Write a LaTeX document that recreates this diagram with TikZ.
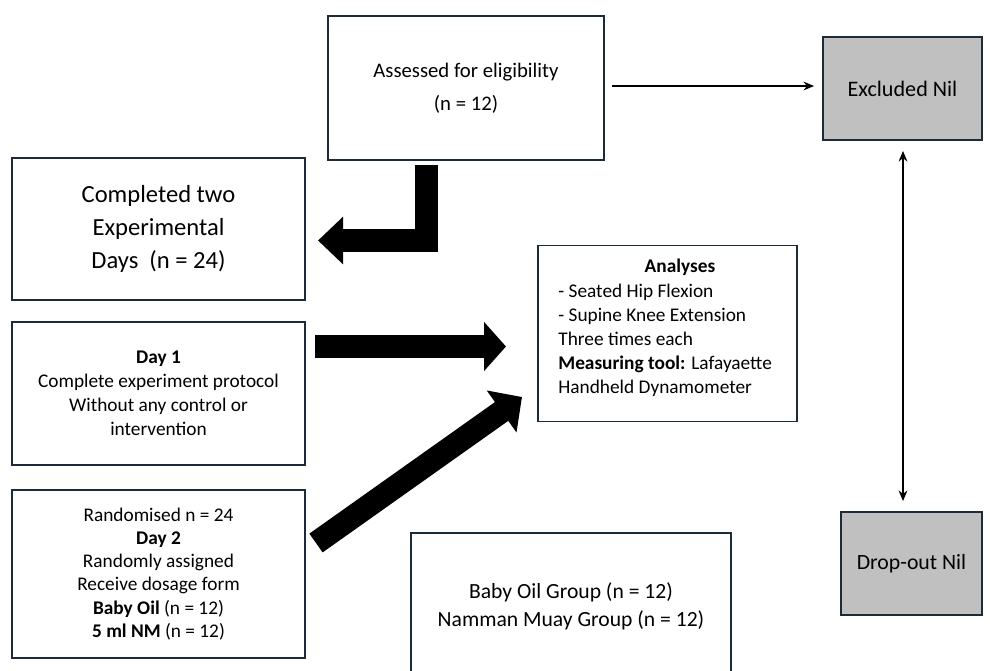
\documentclass[tikz,border=0pt]{standalone}
\usepackage{fontspec}
\setmainfont{Carlito}
\usetikzlibrary{arrows.meta}
\definecolor{boxline}{HTML}{1C2B3A}
\definecolor{boxgray}{HTML}{C0C0C0}
\tikzset{
  box/.style={draw=boxline, line width=1.1pt, fill=white, align=center, inner sep=0pt},
  graybox/.style={box, fill=boxgray},
  bigarrow/.style={line width=0.46cm, -{Triangle[length=0.44cm, width=0.96cm]}},
  thinarrow/.style={line width=0.8pt, -{Stealth[length=6pt, width=5pt]}}
}
\begin{document}
\begin{tikzpicture}[x=0.02cm, y=-0.02cm]
    \clip (0,0) rectangle (990,670);
    \fill[white] (0,0) rectangle (990,670);

    % boxes
    \node[box, minimum width=276*0.02cm, minimum height=144*0.02cm, font=\fontsize{11.8}{18.7}\selectfont] (assess) at (466,88)
        {Assessed for eligibility\\(n = 12)};
    \node[graybox, minimum width=159*0.02cm, minimum height=103*0.02cm, font=\fontsize{12.6}{14}\selectfont] (excl) at (902.5,88.5)
        {Excluded Nil};
    \node[box, minimum width=293*0.02cm, minimum height=142*0.02cm, font=\fontsize{14}{18.7}\selectfont] (done) at (158.5,229)
        {Completed two\\Experimental\\Days~~(n = 24)};
    \node[box, minimum width=293*0.02cm, minimum height=143*0.02cm, font=\fontsize{11}{13.6}\selectfont] (day1) at (158.5,393.5)
        {\textbf{Day 1}\\Complete experiment protocol\\Without any control or\\intervention};
    \node[box, minimum width=293*0.02cm, minimum height=168*0.02cm, font=\fontsize{11}{13.2}\selectfont] (day2) at (158.5,574)
        {Randomised n = 24\\\textbf{Day 2}\\Randomly assigned\\Receive dosage form\\\textbf{Baby Oil} (n = 12)\\\textbf{5 ml NM} (n = 12)};
    \node[box, minimum width=259*0.02cm, minimum height=176*0.02cm] (anal) at (667.5,333.5) {};
    \node[font=\fontsize{11}{13.6}\selectfont\bfseries, inner sep=0pt] (analtitle) at (680,267) {Analyses};
    \node[font=\fontsize{11}{13.6}\selectfont, align=left, inner sep=0pt, anchor=west] (analtext) at (558,340.5)
        {- Seated Hip Flexion\\- Supine Knee Extension\\Three times each\\\textbf{Measuring tool:} Lafayaette\\Handheld Dynamometer};
    \node[box, minimum width=320*0.02cm, minimum height=147*0.02cm, font=\fontsize{12.3}{16}\selectfont] (groups) at (571,606.5)
        {Baby Oil Group (n = 12)\\Namman Muay Group (n = 12)};
    \node[graybox, minimum width=141*0.02cm, minimum height=103*0.02cm, font=\fontsize{12.4}{14}\selectfont] (drop) at (911.5,563.5)
        {Drop-out Nil};

    % free ends of the thick arrows
    \coordinate (bendtop) at (426,165);
    \coordinate (bendtip) at (318,240.5);
    \coordinate (straightstart) at (315,346.5);
    \coordinate (straighttip) at (506,346.5);
    \coordinate (diagstart) at (316,543);
    \coordinate (diagtip) at (522,397);

    % connectors
    \draw[bigarrow, line width=0.46cm, -{Triangle[length=0.5cm, width=0.92cm]}] (bendtop) |- (bendtip);
    \draw[bigarrow] (straightstart) -- (straighttip);
    \draw[bigarrow, -{Triangle[length=0.5cm, width=1.0cm]}] (diagstart) -- (diagtip);
    \draw[thinarrow] ([xshift=7*0.02cm]assess.east |- 0,86) -- ([xshift=-8*0.02cm]excl.west |- 0,86);
    \draw[thinarrow, {Stealth[length=6pt, width=5pt]}-{Stealth[length=6pt, width=5pt]}] ([yshift=-10*0.02cm]excl.south -| 903,0) -- ([yshift=10*0.02cm]drop.north -| 903,0);
\end{tikzpicture}
\end{document}
